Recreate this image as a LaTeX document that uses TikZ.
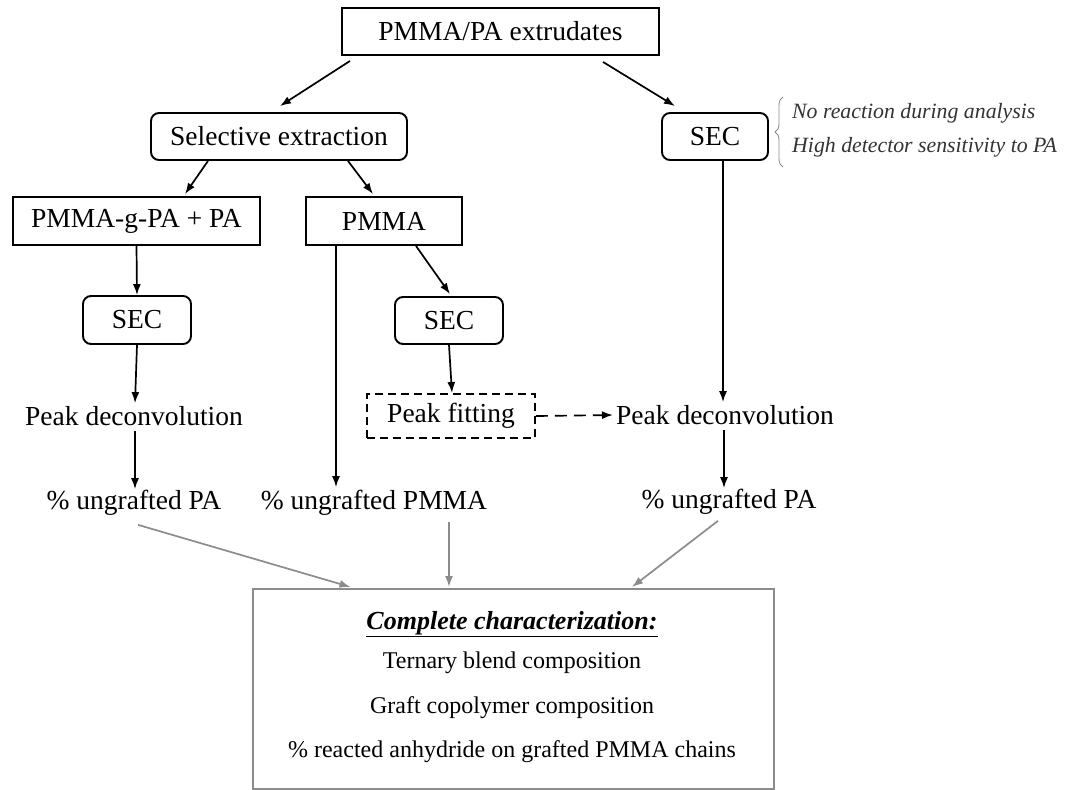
\documentclass[tikz,border=0pt]{standalone}
\usepackage{fontspec}
\setmainfont{Liberation Serif}
\usetikzlibrary{calc,arrows.meta,decorations.pathreplacing}
\newcommand\mainfs{\fontsize{27.5}{32}\selectfont}
\newcommand\boxfs{\fontsize{24}{28}\selectfont}
\newcommand\notefs{\fontsize{21.8}{25}\selectfont}
\definecolor{gline}{gray}{0.55}
\begin{document}
\begin{tikzpicture}[x=1pt,y=-1pt,
  box/.style={draw,line width=1.9pt,inner sep=0pt,font=\mainfs},
  rbox/.style={box,rounded corners=8pt},
  lbl/.style={inner sep=3pt,font=\mainfs},
  arr/.style={line width=1.7pt,-{Latex[length=11pt,width=8pt]}},
  garr/.style={arr,draw=gline},
  note/.style={anchor=west,inner sep=0pt,font=\notefs\itshape,text=black!80},
  ftext/.style={inner sep=0pt,font=\boxfs}
]
\useasboundingbox (0,0) rectangle (1069,790);
\fill[white] (0,0) rectangle (1069,790);

% nodes
\node[box,minimum width=317pt,minimum height=47pt] (top) at (500.5,31.5) {PMMA/PA extrudates};
\node[rbox,minimum width=256pt,minimum height=47pt] (selx) at (279,136.5) {Selective extraction};
\node[rbox,minimum width=106pt,minimum height=47pt] (secR) at (715,136.5) {SEC};
\node[box,minimum width=247pt,minimum height=48pt] (pga) at (136.5,221) {PMMA-g-PA + PA};
\node[box,minimum width=156pt,minimum height=48pt] (pmma) at (384,221) {PMMA};
\node[rbox,minimum width=108pt,minimum height=48pt] (secL) at (137,320) {SEC};
\node[rbox,minimum width=108pt,minimum height=47pt] (secM) at (449,320.5) {SEC};
\node[lbl] (pdL) at (134,416) {Peak deconvolution};
\node[box,dash pattern=on 8pt off 5pt,minimum width=168pt,minimum height=44pt] (pfit) at (451,416) {Peak fitting};
\node[lbl] (pdR) at (725,415) {Peak deconvolution};
\node[lbl] (upaL) at (134,503) {\% ungrafted PA};
\node[lbl] (upmma) at (374,503) {\% ungrafted PMMA};
\node[lbl] (upaR) at (729,502) {\% ungrafted PA};

% notes with brace
\node[note] (n1) at (792,113) {No reaction during analysis};
\node[note] (n2) at (792,147) {High detector sensitivity to PA};
\draw[gline,line width=0.9pt,decorate,decoration={brace,amplitude=8pt}]
  ($(n2.west)+(-9,20)$) -- ($(n1.west)+(-9,-16)$);

% final box
\node[draw=gline,line width=2pt,minimum width=521pt,minimum height=200pt,inner sep=0pt] (final) at (513.5,689) {};
\node[ftext,font=\fontsize{26}{30}\selectfont\bfseries\itshape] (f1) at (512,624) {\underline{Complete characterization:}};
\node[ftext] (f2) at (512,663) {Ternary blend composition};
\node[ftext] (f3) at (512,708) {Graft copolymer composition};
\node[ftext] (f4) at (512,752) {\% reacted anhydride on grafted PMMA chains};

% connectors
\draw[arr] ($(top.south)+(-150.5,5)$) -- ($(selx.north)+(1,-6)$);
\draw[arr] ($(top.south)+(102.5,6)$) -- ($(secR.north)+(-40,-6)$);
\draw[arr] ($(selx.south)+(-71,0)$) -- ($(pga.north)+(48.5,-2)$);
\draw[arr] ($(selx.south)+(69,0)$) -- ($(pmma.north)+(-11,-2)$);
\draw[arr] (pga.south) -- (secL.north);
\draw[arr] ($(pmma.south)+(32,0)$) -- ($(secM.north)+(1,-2)$);
\coordinate (pmL) at ($(pmma.south)+(-48,0)$);
\draw[arr] (pmL) -- (pmL |- upmma.north);
\draw[arr] (secL.south) -- ($(pdL.north)+(1,0)$);
\draw[arr] ($(pdL.south)+(1,2)$) -- ($(upaL.north)+(1,2)$);
\draw[arr] (secM.south) -- ($(pfit.north)+(1,0)$);
\draw[arr,dash pattern=on 12pt off 7pt] (pfit.east) -- (pdR.west);
\coordinate (sR) at ($(secR.south)+(8,0)$);
\draw[arr] (sR) -- (sR |- pdR.north);
\draw[arr] ($(pdR.south)+(-1,2)$) -- ($(upaR.north)+(-5,2)$);
\draw[garr] ($(upaL.south)+(4,6)$) -- ($(final.north)+(-163,-1)$);
\draw[garr] ($(upmma.south)+(75,3)$) -- ($(final.north)+(-64.5,-1)$);
\draw[garr] ($(upaR.south)+(-11,3)$) -- ($(final.north)+(118.5,-1)$);
\end{tikzpicture}
\end{document}
